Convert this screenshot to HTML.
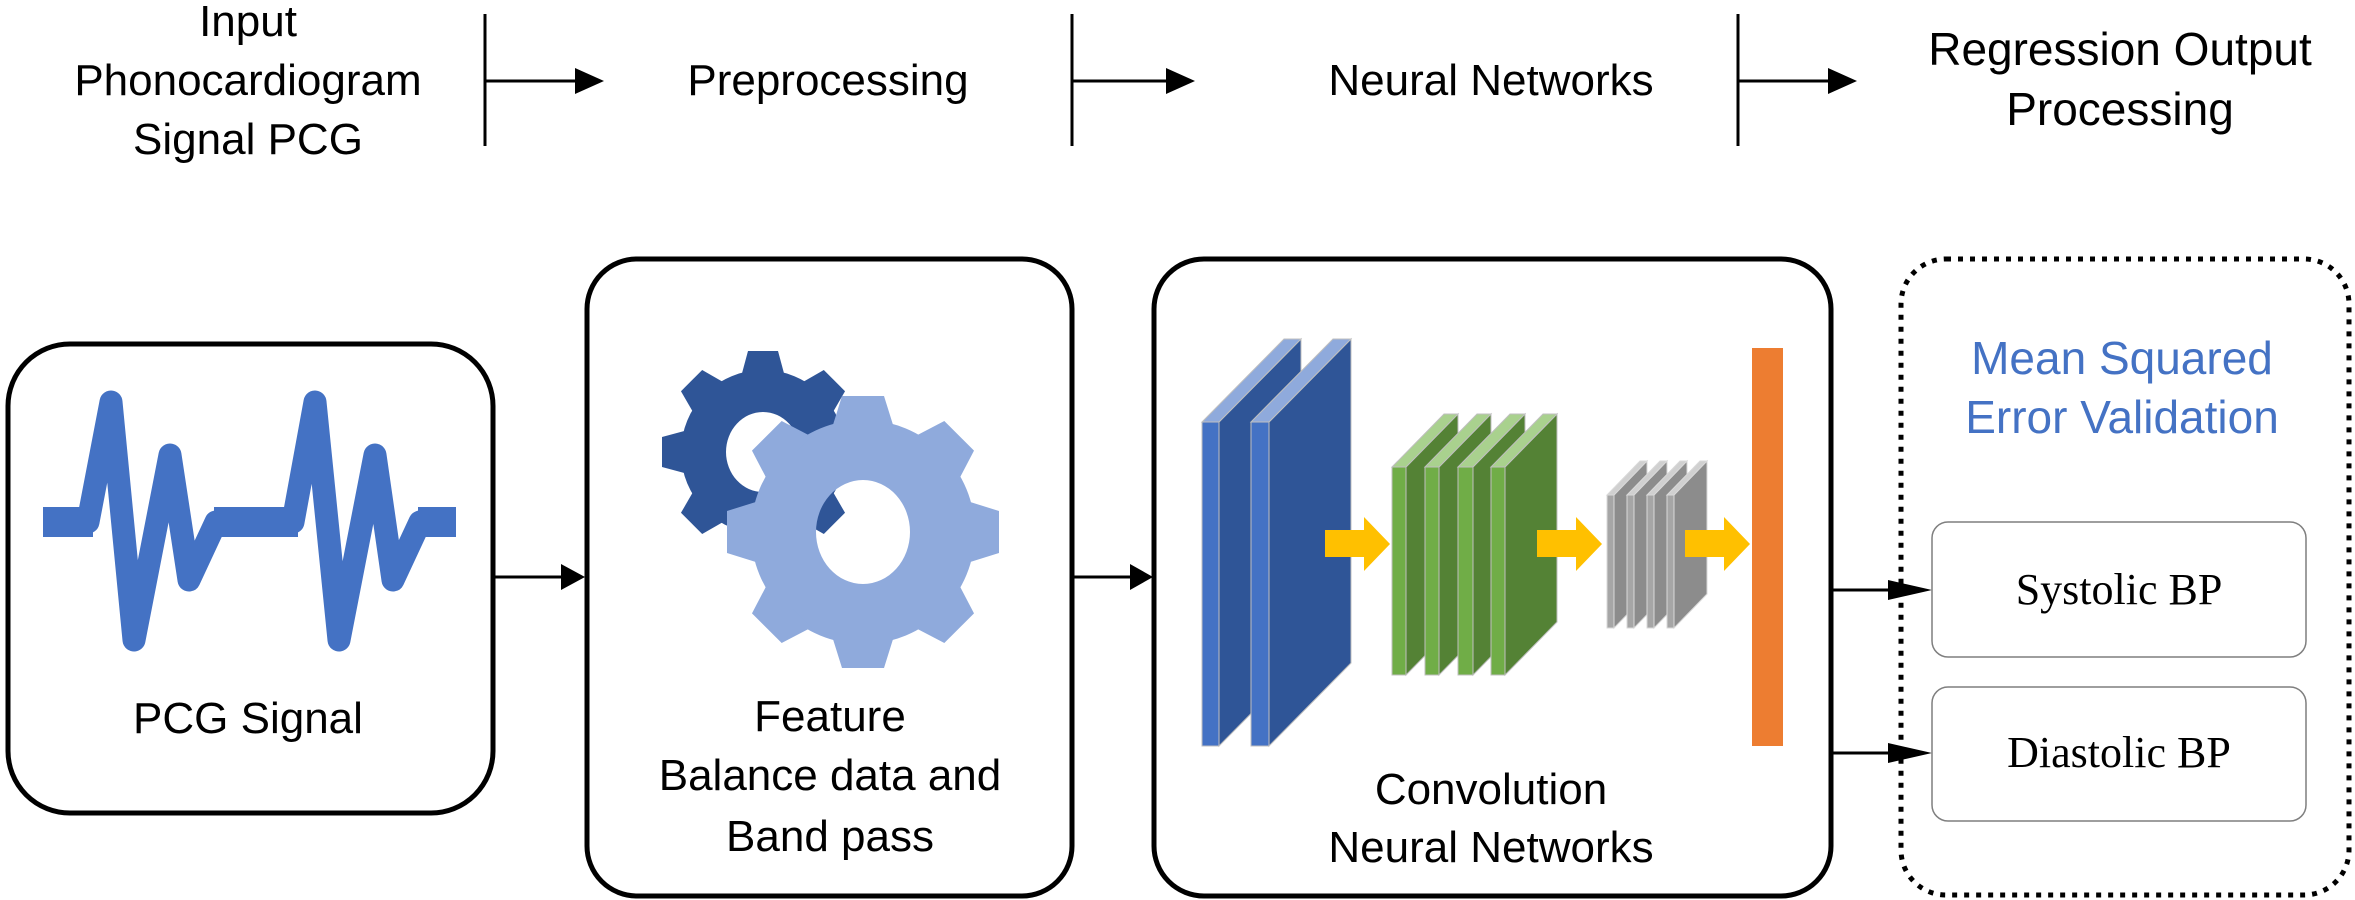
<!DOCTYPE html>
<html><head><meta charset="utf-8"><style>
html,body{margin:0;padding:0;background:#fff;}
svg{display:block;}
text{font-family:"Liberation Sans",sans-serif;}
</style></head><body>
<svg width="2355" height="900" viewBox="0 0 2355 900" xmlns="http://www.w3.org/2000/svg">
<!-- top header -->
<g font-size="44" fill="#000" text-anchor="middle">
<text x="248" y="36">Input</text>
<text x="248" y="95">Phonocardiogram</text>
<text x="248" y="154">Signal PCG</text>
<text x="828" y="95">Preprocessing</text>
<text x="1491" y="95">Neural Networks</text>
<text x="2120" y="65" font-size="46">Regression Output</text>
<text x="2120" y="125" font-size="46">Processing</text>
</g>
<g stroke="#000" stroke-width="3">
<line x1="485" y1="14" x2="485" y2="146"/>
<line x1="485" y1="81" x2="580" y2="81"/>
<line x1="1072" y1="14" x2="1072" y2="146"/>
<line x1="1072" y1="81" x2="1170" y2="81"/>
<line x1="1738" y1="14" x2="1738" y2="146"/>
<line x1="1738" y1="81" x2="1832" y2="81"/>
</g>
<g fill="#000">
<path d="M575,68 L604,81 L575,94 Z"/>
<path d="M1166,68 L1195,81 L1166,94 Z"/>
<path d="M1828,68 L1857,81 L1828,94 Z"/>
</g>
<!-- boxes -->
<g fill="none" stroke="#000" stroke-width="5">
<rect x="8" y="344" width="485" height="469" rx="62"/>
<rect x="587" y="259" width="485" height="637" rx="50"/>
<rect x="1154" y="259" width="677" height="637" rx="50"/>
</g>
<rect x="1901" y="259" width="448" height="636" rx="45" fill="none" stroke="#000" stroke-width="5" stroke-dasharray="5,7"/>
<!-- connectors -->
<g stroke="#000" stroke-width="3">
<line x1="493" y1="577" x2="565" y2="577"/>
<line x1="1072" y1="577" x2="1135" y2="577"/>
<line x1="1831" y1="590" x2="1905" y2="590"/>
<line x1="1831" y1="753" x2="1905" y2="753"/>
</g>
<g fill="#000">
<path d="M561,564 L585,577 L561,590 Z"/>
<path d="M1130,564 L1153,577 L1130,590 Z"/>
<path d="M1888,580 L1932,590 L1888,600 Z"/>
<path d="M1888,743 L1932,753 L1888,763 Z"/>
</g>
<!-- ECG -->
<g fill="#4472C4">
<rect x="43" y="507" width="50" height="30"/>
<rect x="214" y="507" width="84" height="30"/>
<rect x="418" y="507" width="38" height="30"/>
</g>
<polyline points="88,522 111,402 134,640 170,455 189,580 216,522 293,522 315,402 339,640 375,455 393,580 420,522" fill="none" stroke="#4472C4" stroke-width="23" stroke-linejoin="round" stroke-linecap="round"/>
<text x="248" y="733" font-size="44" text-anchor="middle">PCG Signal</text>
<!-- gears -->
<g transform="translate(763,452)" fill="#2F5597">
<path fill-rule="evenodd" d="M-82,0 a82,82 0 1,0 164,0 a82,82 0 1,0 -164,0 Z M-37,0 a37,40 0 1,0 74,0 a37,40 0 1,0 -74,0 Z"/>
<polygon points="-22,-75 -15,-101 15,-101 22,-75"/>
<polygon points="-22,-75 -15,-101 15,-101 22,-75" transform="rotate(45)"/>
<polygon points="-22,-75 -15,-101 15,-101 22,-75" transform="rotate(90)"/>
<polygon points="-22,-75 -15,-101 15,-101 22,-75" transform="rotate(135)"/>
<polygon points="-22,-75 -15,-101 15,-101 22,-75" transform="rotate(180)"/>
<polygon points="-22,-75 -15,-101 15,-101 22,-75" transform="rotate(225)"/>
<polygon points="-22,-75 -15,-101 15,-101 22,-75" transform="rotate(270)"/>
<polygon points="-22,-75 -15,-101 15,-101 22,-75" transform="rotate(315)"/>
</g>
<g transform="translate(863,532)" fill="#8FAADC">
<path fill-rule="evenodd" d="M-112,0 a112,112 0 1,0 224,0 a112,112 0 1,0 -224,0 Z M-47,0 a47,52 0 1,0 94,0 a47,52 0 1,0 -94,0 Z"/>
<polygon points="-31,-104 -21,-136 21,-136 31,-104"/>
<polygon points="-31,-104 -21,-136 21,-136 31,-104" transform="rotate(45)"/>
<polygon points="-31,-104 -21,-136 21,-136 31,-104" transform="rotate(90)"/>
<polygon points="-31,-104 -21,-136 21,-136 31,-104" transform="rotate(135)"/>
<polygon points="-31,-104 -21,-136 21,-136 31,-104" transform="rotate(180)"/>
<polygon points="-31,-104 -21,-136 21,-136 31,-104" transform="rotate(225)"/>
<polygon points="-31,-104 -21,-136 21,-136 31,-104" transform="rotate(270)"/>
<polygon points="-31,-104 -21,-136 21,-136 31,-104" transform="rotate(315)"/>
</g>
<g font-size="44" text-anchor="middle">
<text x="830" y="731">Feature</text>
<text x="830" y="790">Balance data and</text>
<text x="830" y="851">Band pass</text>
<text x="1491" y="804">Convolution</text>
<text x="1491" y="862">Neural Networks</text>
</g>
<!-- CNN blue slabs -->
<g stroke="#BFBFBF" stroke-width="1">
<path d="M1219,422 L1301,339 L1301,663 L1219,746 Z" fill="#2F5597"/>
<path d="M1202,422 L1284,339 L1301,339 L1219,422 Z" fill="#8FAADC"/>
<rect x="1202" y="422" width="17" height="324" fill="#4472C4"/>
<path d="M1269,422 L1351,339 L1351,663 L1269,746 Z" fill="#2F5597"/>
<path d="M1251,422 L1333,339 L1351,339 L1269,422 Z" fill="#8FAADC"/>
<rect x="1251" y="422" width="18" height="324" fill="#4472C4"/>
</g>
<!-- green -->
<g stroke="#BFBFBF" stroke-width="1">
<path d="M1406,467 L1458,414 L1458,622 L1406,675 Z" fill="#548235"/>
<path d="M1392,467 L1444,414 L1458,414 L1406,467 Z" fill="#A9D18E"/>
<rect x="1392" y="467" width="14" height="208" fill="#70AD47"/>
<path d="M1439,467 L1491,414 L1491,622 L1439,675 Z" fill="#548235"/>
<path d="M1425,467 L1477,414 L1491,414 L1439,467 Z" fill="#A9D18E"/>
<rect x="1425" y="467" width="14" height="208" fill="#70AD47"/>
<path d="M1473,467 L1525,414 L1525,622 L1473,675 Z" fill="#548235"/>
<path d="M1458,467 L1510,414 L1525,414 L1473,467 Z" fill="#A9D18E"/>
<rect x="1458" y="467" width="15" height="208" fill="#70AD47"/>
<path d="M1505,467 L1557,414 L1557,622 L1505,675 Z" fill="#548235"/>
<path d="M1491,467 L1543,414 L1557,414 L1505,467 Z" fill="#A9D18E"/>
<rect x="1491" y="467" width="14" height="208" fill="#70AD47"/>
</g>
<!-- gray -->
<g stroke="#D9D9D9" stroke-width="1">
<path d="M1614,495 L1647,461 L1647,594 L1614,628 Z" fill="#8C8C8C"/>
<path d="M1607,495 L1640,461 L1647,461 L1614,495 Z" fill="#D0D0D0"/>
<rect x="1607" y="495" width="7" height="133" fill="#A6A6A6"/>
<path d="M1634,495 L1667,461 L1667,594 L1634,628 Z" fill="#8C8C8C"/>
<path d="M1627,495 L1660,461 L1667,461 L1634,495 Z" fill="#D0D0D0"/>
<rect x="1627" y="495" width="7" height="133" fill="#A6A6A6"/>
<path d="M1654,495 L1687,461 L1687,594 L1654,628 Z" fill="#8C8C8C"/>
<path d="M1647,495 L1680,461 L1687,461 L1654,495 Z" fill="#D0D0D0"/>
<rect x="1647" y="495" width="7" height="133" fill="#A6A6A6"/>
<path d="M1674,495 L1707,461 L1707,594 L1674,628 Z" fill="#8C8C8C"/>
<path d="M1667,495 L1700,461 L1707,461 L1674,495 Z" fill="#D0D0D0"/>
<rect x="1667" y="495" width="7" height="133" fill="#A6A6A6"/>
</g>
<!-- yellow arrows -->
<g fill="#FFC000">
<path d="M1325,530 L1364,530 L1364,517 L1390,544 L1364,571 L1364,557 L1325,557 Z"/>
<path d="M1537,530 L1576,530 L1576,517 L1602,544 L1576,571 L1576,557 L1537,557 Z"/>
<path d="M1685,530 L1724,530 L1724,517 L1750,544 L1724,571 L1724,557 L1685,557 Z"/>
</g>
<rect x="1752" y="348" width="31" height="398" fill="#ED7D31"/>
<!-- validation -->
<g font-size="46" fill="#4472C4" text-anchor="middle">
<text x="2122" y="374">Mean Squared</text>
<text x="2122" y="433">Error Validation</text>
</g>
<g fill="#fff" stroke="#7F7F7F" stroke-width="1.5">
<rect x="1932" y="522" width="374" height="135" rx="16"/>
<rect x="1932" y="687" width="374" height="134" rx="16"/>
</g>
<g font-size="44" text-anchor="middle" fill="#000">
<text x="2119" y="604" style="font-family:'Liberation Serif',serif">Systolic BP</text>
<text x="2119" y="767" style="font-family:'Liberation Serif',serif">Diastolic BP</text>
</g>
</svg>
</body></html>
